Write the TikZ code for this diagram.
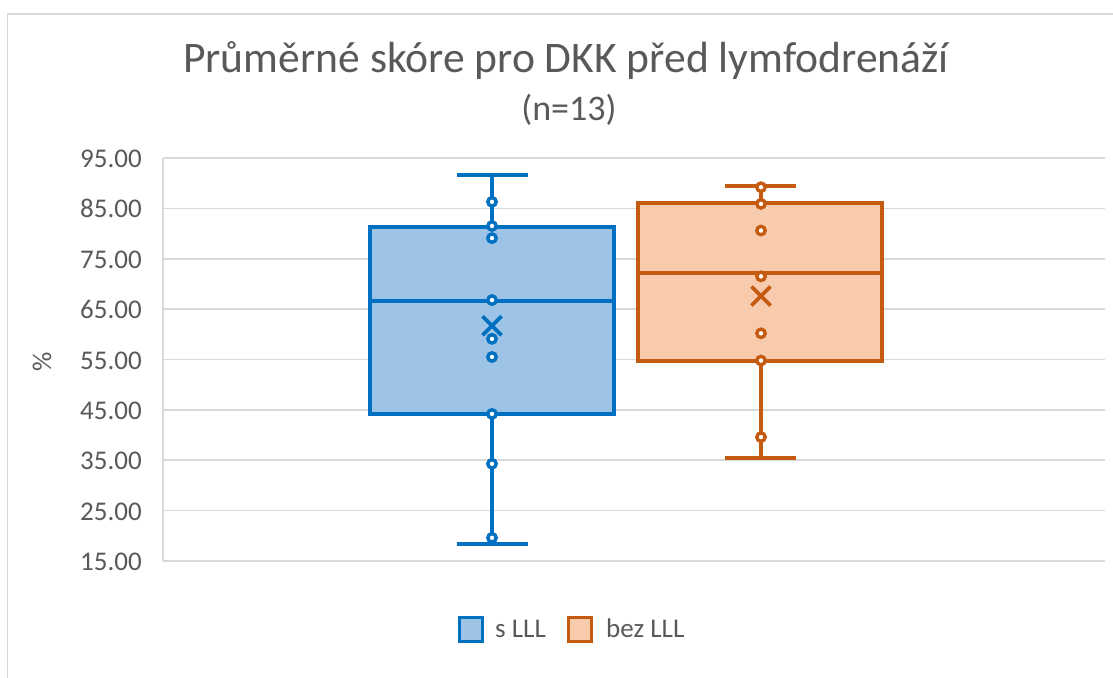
\documentclass[tikz,border=0pt]{standalone}
\usepackage{fontspec}
\setmainfont{Carlito}
\definecolor{txt}{HTML}{595959}
\definecolor{grid}{HTML}{D9D9D9}
\definecolor{bstroke}{HTML}{0070C0}
\definecolor{bfill}{HTML}{9DC3E6}
\definecolor{ostroke}{HTML}{C55A11}
\definecolor{ofill}{HTML}{F8CBAD}
\newcommand\meanX[3]{\draw[#1,line width=3.8pt] ([shift={(-9.5pt,-9.5pt)}]#2,#3) -- ([shift={(9.5pt,9.5pt)}]#2,#3) ([shift={(-9.5pt,9.5pt)}]#2,#3) -- ([shift={(9.5pt,-9.5pt)}]#2,#3);}
\tikzset{
  gridline/.style={draw=grid,line width=1.6pt},
  ticklab/.style={text=txt,font=\fontsize{27}{30}\selectfont,anchor=base east,inner sep=0pt},
  whisk/.style={line width=3.8pt},
  boxst/.style={line width=4pt},
  mkr/.style={line width=3.4pt,fill=white},
}
\begin{document}
\begin{tikzpicture}[x=1pt,y=-1pt]
\useasboundingbox (0,0) rectangle (1113,677);
\fill[white] (0,0) rectangle (1113,677);
% chart border
\draw[draw=grid,line width=1.5pt] (7.5,690) -- (7.5,14) -- (1125,14);
% title
\node[text=txt,font=\fontsize{43.6}{48}\selectfont,anchor=base,inner sep=0pt] (title) at (566,72) {Průměrné skóre pro DKK před lymfodrenáží};
\node[text=txt,font=\fontsize{36}{40}\selectfont,anchor=base,inner sep=0pt] (subtitle) at (569,120) {(n=13)};
% y-axis title
\node[text=txt,font=\fontsize{27}{30}\selectfont,rotate=90,inner sep=0pt] (ytitle) at (42,362) {\%};
\begin{scope}[yshift=-636.56pt,y=5.0375pt]
  % gridlines and labels
  \foreach \v in {15,25,...,95} {
    \draw[gridline] (163,\v) -- (1105,\v);
    \node[ticklab] (tick\v) at ([yshift=-9.5pt]142,\v) {\v.00};
  }
  \draw[gridline] (163,15) -- (163,95);
  % --- blue box (s LLL)
  \draw[whisk,bstroke] (457,91.6) -- (528,91.6);
  \draw[whisk,bstroke] (492,91.6) -- (492,81.3);
  \draw[whisk,bstroke] (457,18.4) -- (528,18.4);
  \draw[whisk,bstroke] (492,18.4) -- (492,44.2);
  \draw[boxst,draw=bstroke,fill=bfill] (370,44.2) rectangle (614,81.3);
  \draw[whisk,bstroke] (370,66.6) -- (614,66.6);
  \foreach \v in {86.3,81.5,79.1,66.8,59.1,55.5,44.2,34.3,19.6}
    \draw[mkr,draw=bstroke] (492,\v) circle[radius=4.2pt];
  \meanX{bstroke}{492}{61.7}
  % --- orange box (bez LLL)
  \draw[whisk,ostroke] (725,89.5) -- (796,89.5);
  \draw[whisk,ostroke] (761,89.5) -- (761,86.1);
  \draw[whisk,ostroke] (725,35.4) -- (796,35.4);
  \draw[whisk,ostroke] (761,35.4) -- (761,54.8);
  \draw[boxst,draw=ostroke,fill=ofill] (638,54.8) rectangle (882,86.1);
  \draw[whisk,ostroke] (638,72.1) -- (882,72.1);
  \foreach \v in {89.2,85.9,80.6,71.5,60.2,54.8,39.6}
    \draw[mkr,draw=ostroke] (761,\v) circle[radius=4.2pt];
  \meanX{ostroke}{761}{67.6}
\end{scope}
% legend
\draw[line width=3pt,draw=bstroke,fill=bfill] (459.5,617.5) rectangle (482.5,641.5);
\node[text=txt,font=\fontsize{27}{30}\selectfont,anchor=base west,inner sep=0pt] (leg1) at (495,637) {s LLL};
\draw[line width=3pt,draw=ostroke,fill=ofill] (568.5,617.5) rectangle (591.5,641.5);
\node[text=txt,font=\fontsize{27}{30}\selectfont,anchor=base west,inner sep=0pt] (leg2) at (606,637) {bez LLL};
\end{tikzpicture}
\end{document}
